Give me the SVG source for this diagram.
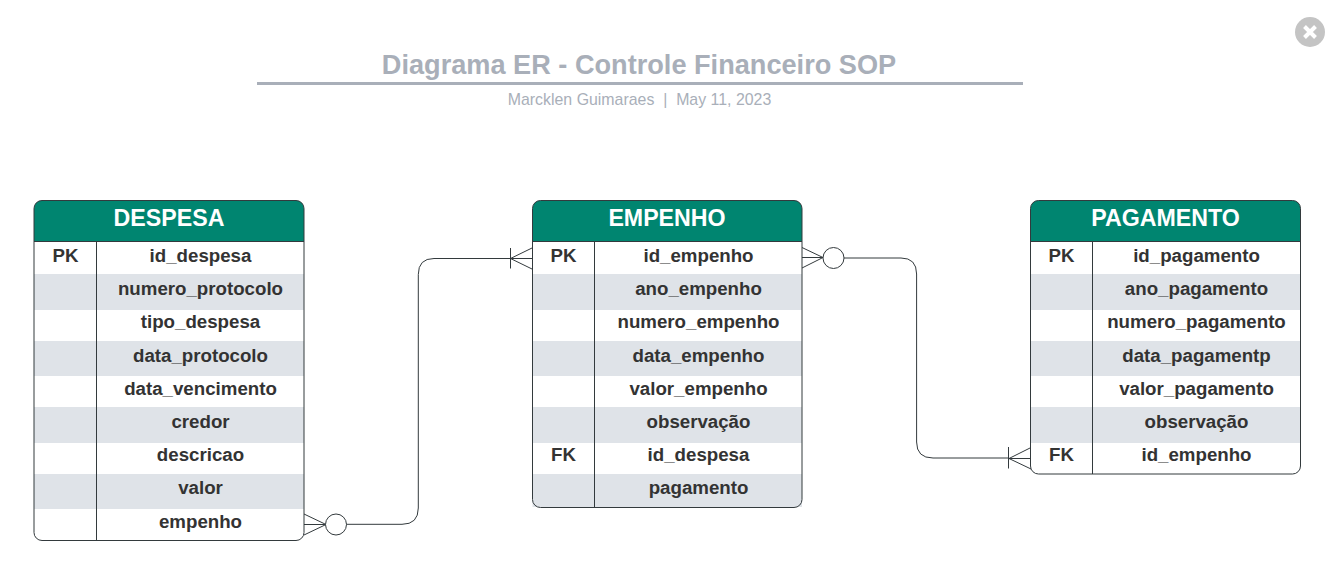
<svg xmlns="http://www.w3.org/2000/svg" width="1336" height="583" viewBox="0 0 1336 583">
<style>
text{font-family:"Liberation Sans",Arial,sans-serif;text-anchor:middle;white-space:pre}
.t{font-size:18.7px;font-weight:700;fill:#333333}
.h{font-size:23.200px;font-weight:700;fill:#ffffff}
.g{fill:#dfe3e8}
.hd{fill:#008570}
.o{fill:none;stroke:#333a3d;stroke-width:1}
.c{fill:none;stroke:#333a3d;stroke-width:1}
.w{fill:#ffffff;stroke:#333a3d;stroke-width:1}
</style>
<rect width="1336" height="583" fill="#ffffff"/>
<g id="title">
<text x="639" y="74" font-size="27.150" font-weight="700" fill="#a9afb9">Diagrama ER - Controle Financeiro SOP</text>
<rect x="257" y="82" width="766" height="3" fill="#a9afb9"/>
<text x="639.500" y="105" font-size="15.900" fill="#a9afb9">Marcklen Guimaraes  |  May 11, 2023</text>
</g>
<g id="close">
<circle cx="1310" cy="32" r="15" fill="#c4c4c4"/>
<path d="M1304.500 26.500L1315.500 37.500M1315.500 26.500L1304.500 37.500" stroke="#ffffff" stroke-width="4" fill="none"/>
</g>
<g id="connectors">
<path class="c" d="M346 524.300H402Q418.300 524.300 418.300 508V274.500Q418.300 258.500 434 258.500H532"/>
<path class="c" d="M510.500 258.500L532 248M510.500 258.500L532 269M510.500 248V268.500"/>
<path class="c" d="M844 258H901Q916.600 258 916.600 274V442Q916.600 458 933 458H1009"/>
<path class="c" d="M1009 458.500H1031M1009 458.500L1031 447.500M1009 458.500L1031 469M1008.500 447V468.500"/>
<path class="c" d="M304 514L326 524.500L304 535M304 524.500H326"/>
<circle class="w" cx="336" cy="524.500" r="10.500"/>
<path class="c" d="M802 247.500L823 257.500L802 268M802 257.500H823"/>
<circle class="w" cx="833.500" cy="258" r="10.500"/>
</g>
<g id="despesa">
<path class="hd" d="M34 241.500V208.500a8 8 0 0 1 8-8H296a8 8 0 0 1 8 8V241.500Z"/>
<rect class="g" x="34" y="274" width="270" height="36"/><rect class="g" x="34" y="341" width="270" height="35"/><rect class="g" x="34" y="407" width="270" height="36"/><rect class="g" x="34" y="474" width="270" height="35"/>
<path class="o" d="M34 241.500H304M96.500 241.500V540.500"/>
<rect class="o" x="34" y="200.500" width="270" height="340" rx="8"/>
<text class="h" x="169" y="226">DESPESA</text>
<text class="t" x="65.500" y="262">PK</text>
<text class="t" x="200.500" y="262">id_despesa</text><text class="t" x="200.500" y="295">numero_protocolo</text><text class="t" x="200.500" y="328">tipo_despesa</text><text class="t" x="200.500" y="361.500">data_protocolo</text><text class="t" x="200.500" y="395">data_vencimento</text><text class="t" x="200.500" y="428">credor</text><text class="t" x="200.500" y="461">descricao</text><text class="t" x="200.500" y="494">valor</text><text class="t" x="200.500" y="527.500">empenho</text>
</g>
<g id="empenho">
<path class="hd" d="M532.500 241.500V208.500a8 8 0 0 1 8-8H794a8 8 0 0 1 8 8V241.500Z"/>
<rect class="g" x="532.500" y="274" width="269.500" height="36"/><rect class="g" x="532.500" y="341" width="269.500" height="35"/><rect class="g" x="532.500" y="407" width="269.500" height="36"/><rect class="g" x="532.500" y="474" width="269.500" height="33"/>
<path class="o" d="M532.500 241.500H802M594.500 241.500V507.500"/>
<rect class="o" x="532.500" y="200.500" width="269.500" height="307" rx="8"/>
<text class="h" x="667" y="226">EMPENHO</text>
<text class="t" x="563.500" y="262">PK</text><text class="t" x="563.500" y="461">FK</text>
<text class="t" x="698.500" y="262">id_empenho</text><text class="t" x="698.500" y="295">ano_empenho</text><text class="t" x="698.500" y="328">numero_empenho</text><text class="t" x="698.500" y="361.500">data_empenho</text><text class="t" x="698.500" y="395">valor_empenho</text><text class="t" x="698.500" y="428">observação</text><text class="t" x="698.500" y="461">id_despesa</text><text class="t" x="698.500" y="494">pagamento</text>
</g>
<g id="pagamento">
<path class="hd" d="M1030.500 241.500V208.500a8 8 0 0 1 8-8H1292.500a8 8 0 0 1 8 8V241.500Z"/>
<rect class="g" x="1030.500" y="274" width="270" height="36"/><rect class="g" x="1030.500" y="341" width="270" height="35"/><rect class="g" x="1030.500" y="407" width="270" height="36"/>
<path class="o" d="M1030.500 241.500H1300.500M1092.500 241.500V474"/>
<rect class="o" x="1030.500" y="200.500" width="270" height="273.500" rx="8"/>
<text class="h" x="1165.500" y="226">PAGAMENTO</text>
<text class="t" x="1061.500" y="262">PK</text><text class="t" x="1061.500" y="461">FK</text>
<text class="t" x="1196.500" y="262">id_pagamento</text><text class="t" x="1196.500" y="295">ano_pagamento</text><text class="t" x="1196.500" y="328">numero_pagamento</text><text class="t" x="1196.500" y="361.500">data_pagamentp</text><text class="t" x="1196.500" y="395">valor_pagamento</text><text class="t" x="1196.500" y="428">observação</text><text class="t" x="1196.500" y="461">id_empenho</text>
</g>
</svg>
